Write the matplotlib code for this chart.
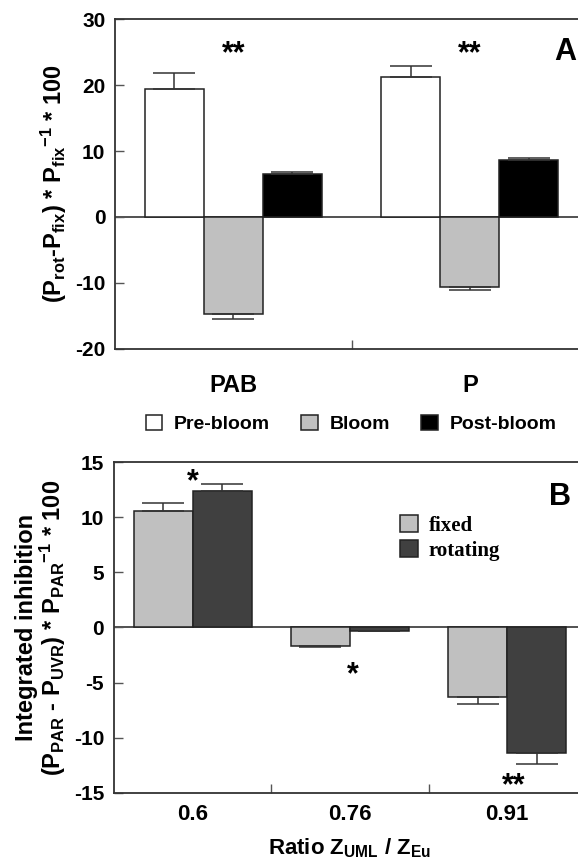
import numpy as np
import matplotlib
matplotlib.use("Agg")
import matplotlib.pyplot as plt
from matplotlib.patches import Patch

plt.rcParams["font.family"] = ["Liberation Sans", "DejaVu Sans"]
plt.rcParams["font.weight"] = "bold"
plt.rcParams["axes.labelweight"] = "bold"
plt.rcParams["axes.unicode_minus"] = False
plt.rcParams["mathtext.fontset"] = "custom"
plt.rcParams["mathtext.rm"] = "Liberation Sans:bold"
plt.rcParams["mathtext.it"] = "Liberation Sans:bold"
plt.rcParams["mathtext.bf"] = "Liberation Sans:bold"
plt.rcParams["mathtext.default"] = "rm"

# Panel A data
groups_a = ["PAB", "P"]
seasons = ["Pre-bloom", "Bloom", "Post-bloom"]
pre_bloom = [19.4, 21.2]
bloom = [-14.7, -10.6]
post_bloom = [6.5, 8.6]
pre_bloom_err = [2.4, 1.7]
bloom_err = [0.75, 0.45]
post_bloom_err = [0.3, 0.3]

# Panel B data
ratios = ["0.6", "0.76", "0.91"]
fixed = [10.6, -1.7, -6.3]
rotating = [12.4, -0.3, -11.4]
fixed_err = [0.7, 0.1, 0.65]
rotating_err = [0.6, 0.05, 1.0]


def one_sided(vals, errs):
    # error bar drawn only away from zero
    vals = np.asarray(vals)
    errs = np.asarray(errs)
    lower = np.where(vals < 0, errs, 0)
    upper = np.where(vals >= 0, errs, 0)
    return [lower, upper]


def style_axes(ax):
    for sp in ax.spines.values():
        sp.set_linewidth(1.3)
        sp.set_color("#333333")
    ax.tick_params(axis="y", direction="in", length=6.5, width=1,
                   color="#555555", labelsize=15, pad=7)
    ax.tick_params(axis="x", which="major", length=0)
    ax.tick_params(axis="x", which="minor", direction="in", length=6.5,
                   width=1, color="#555555")
    ax.axhline(0, color="#222222", lw=1.1, zorder=1)


fig = plt.figure(figsize=(5.78, 8.61), dpi=100)
ekw = dict(ecolor="#333333", elinewidth=1.1, capthick=1.1, capsize=15)

# ---- Panel A
axA = fig.add_axes([0.199, 0.5947, 0.8183, 0.3832])
x = np.arange(len(groups_a))
w = 0.25
colors_a = ["white", "#c0c0c0", "black"]
series_a = [(pre_bloom, pre_bloom_err), (bloom, bloom_err),
            (post_bloom, post_bloom_err)]
for i, ((vals, errs), c) in enumerate(zip(series_a, colors_a)):
    axA.bar(x + (i - 1) * w, vals, w, color=c, edgecolor="#222222",
            linewidth=1.1, yerr=one_sided(vals, errs), error_kw=ekw, zorder=2)
axA.set_xlim(-0.5, 1.5)
axA.set_ylim(-20, 30)
axA.set_yticks([-20, -10, 0, 10, 20, 30])
axA.set_xticks(x)
axA.set_xticklabels(groups_a, fontsize=17)
axA.set_xticks([0.5], minor=True)
style_axes(axA)
axA.tick_params(axis="x", which="major", pad=18)
axA.set_ylabel(r"($P_{rot}$-$P_{fix}$) * $P_{fix}{}^{-1}$ * 100",
               fontsize=17, labelpad=4)
for xi in x:
    axA.text(xi, 24.6, "**", ha="center", va="center", fontsize=22)
axA.text(0.951, 0.9, "A", transform=axA.transAxes, ha="center",
         va="center", fontsize=22)
handles_a = [Patch(facecolor=c, edgecolor="#222222", linewidth=1.1)
             for c in colors_a]
axA.legend(handles_a, seasons, loc="upper center",
           bbox_to_anchor=(0.499, -0.17), ncol=3, frameon=False,
           fontsize=14, handlelength=0.85, handleheight=0.85,
           handletextpad=0.6, columnspacing=1.6, borderpad=0)

# ---- Panel B
axB = fig.add_axes([0.197, 0.079, 0.8168, 0.3844])
xb = np.arange(len(ratios))
wb = 0.375
axB.bar(xb - wb / 2, fixed, wb, color="#c0c0c0", edgecolor="#222222",
        linewidth=1.1, yerr=one_sided(fixed, fixed_err), error_kw=ekw,
        zorder=2, label="fixed")
axB.bar(xb + wb / 2, rotating, wb, color="#404040", edgecolor="#222222",
        linewidth=1.1, yerr=one_sided(rotating, rotating_err), error_kw=ekw,
        zorder=2, label="rotating")
axB.set_xlim(-0.5, 2.5)
axB.set_ylim(-15, 15)
axB.set_yticks([-15, -10, -5, 0, 5, 10, 15])
axB.set_xticks(xb)
axB.set_xticklabels(ratios, fontsize=16)
axB.set_xticks([0.5, 1.5], minor=True)
style_axes(axB)
axB.tick_params(axis="x", which="major", pad=8)
axB.set_xlabel(r"Ratio $Z_{UML}$ / $Z_{Eu}$", fontsize=16, labelpad=8)
axB.set_ylabel("Integrated inhibition\n"
               r"($P_{PAR}$ - $P_{UVR}$) * $P_{PAR}{}^{-1}$ * 100",
               fontsize=17, labelpad=4, linespacing=1.0)
axB.text(0.0, 13.2, "*", ha="center", va="center", fontsize=22)
axB.text(1.02, -4.3, "*", ha="center", va="center", fontsize=22)
axB.text(2.04, -14.4, "**", ha="center", va="center", fontsize=22)
axB.text(0.945, 0.894, "B", transform=axB.transAxes, ha="center",
         va="center", fontsize=22)
axB.legend(loc="upper left", bbox_to_anchor=(0.585, 0.87), frameon=False,
           prop={"family": "Liberation Serif", "weight": "bold", "size": 15},
           handlelength=0.85, handleheight=0.85, handletextpad=0.5,
           labelspacing=0.2, borderpad=0)

fig.savefig("out.png", dpi=100)
